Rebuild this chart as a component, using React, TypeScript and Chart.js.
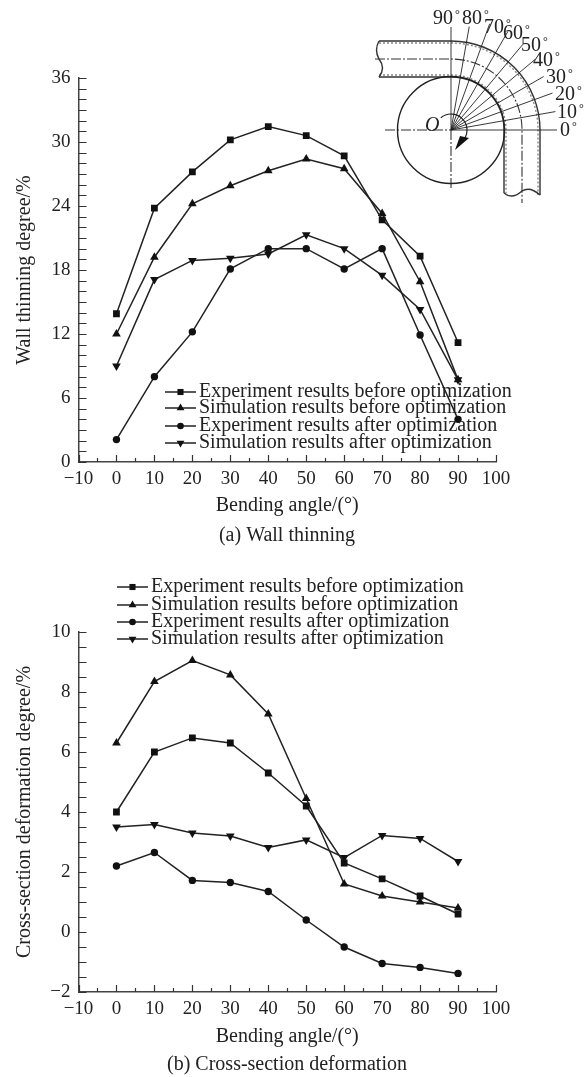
import React, { useEffect, useRef } from "react";
import { Chart, registerables } from "chart.js";
import { drawPoint } from "chart.js/helpers";

Chart.register(...registerables);

const angles = [0, 10, 20, 30, 40, 50, 60, 70, 80, 90];
const seriesNames = [
  "Experiment results before optimization",
  "Simulation results before optimization",
  "Experiment results after optimization",
  "Simulation results after optimization",
];
const thinExpBefore = [13.9, 23.8, 27.2, 30.2, 31.45, 30.6, 28.7, 22.7, 19.3, 11.2];
const thinSimBefore = [12.0, 19.2, 24.2, 25.9, 27.3, 28.4, 27.5, 23.3, 16.9, 7.7];
const thinExpAfter = [2.1, 8.0, 12.2, 18.1, 20.0, 20.0, 18.1, 20.0, 11.9, 4.0];
const thinSimAfter = [9.0, 17.1, 18.9, 19.1, 19.5, 21.3, 20.0, 17.5, 14.3, 7.7];
const defExpBefore = [4.0, 6.0, 6.47, 6.3, 5.3, 4.2, 2.3, 1.77, 1.2, 0.6];
const defSimBefore = [6.3, 8.35, 9.05, 8.57, 7.27, 4.45, 1.6, 1.2, 1.0, 0.8];
const defExpAfter = [2.2, 2.65, 1.72, 1.65, 1.35, 0.4, -0.5, -1.05, -1.18, -1.38];
const defSimAfter = [3.5, 3.58, 3.3, 3.2, 2.82, 3.07, 2.48, 3.22, 3.12, 2.35];
const insetAngles = [0, 10, 20, 30, 40, 50, 60, 70, 80, 90];
const insetReach = [106, 106, 108, 107, 110, 112, 114, 113, 105, 103];
const insetLabelSpots = [
  [560, 136], [557, 118], [555, 100], [546, 83], [533, 66], [521, 51], [503, 39], [484, 33], [462, 24], [433, 24],
];

const FONT = '"Liberation Serif", "Times New Roman", serif';
const INK = "#222";
const markers = [
  { pointStyle: "rect", radius: 4.8, rotation: 0 },
  { pointStyle: "triangle", radius: 5, rotation: 0 },
  { pointStyle: "circle", radius: 3.7, rotation: 0 },
  { pointStyle: "triangle", radius: 5, rotation: 180 },
];

const captionCentre = {
  id: "captionCentre",
  afterLayout(chart: any) {
    if (chart.titleBlock) {
      chart.titleBlock.left = 0;
      chart.titleBlock.right = 574;
    }
  },
};

const minorTicks = {
  id: "minorTicks",
  afterDatasetsDraw(chart: any) {
    const { ctx, scales } = chart;
    const { x, y } = scales;
    ctx.save();
    ctx.strokeStyle = "#333";
    ctx.lineWidth = 1.2;
    ctx.beginPath();
    for (const t of x.ticks) {
      const px = Math.round(x.getPixelForValue(t.value)) + 0.5;
      const len = t.value % 10 === 0 ? 7 : 4;
      ctx.moveTo(px, y.bottom);
      ctx.lineTo(px, y.bottom - len);
    }
    for (const t of y.ticks) {
      const py = Math.round(y.getPixelForValue(t.value)) + 0.5;
      ctx.moveTo(x.left, py);
      ctx.lineTo(x.left + 8, py);
    }
    ctx.stroke();
    ctx.restore();
  },
};

const legendKey = {
  id: "legendKey",
  afterDatasetsDraw(chart: any, _a: any, opts: any) {
    const { ctx } = chart;
    ctx.save();
    ctx.font = `${opts.size}px ${FONT}`;
    ctx.textBaseline = "middle";
    chart.data.datasets.forEach((ds: any, i: number) => {
      const yy = opts.ys[i];
      ctx.strokeStyle = INK;
      ctx.lineWidth = 1.5;
      ctx.beginPath();
      ctx.moveTo(opts.x, yy);
      ctx.lineTo(opts.x + 31, yy);
      ctx.stroke();
      ctx.fillStyle = "#111";
      ctx.strokeStyle = "#111";
      drawPoint(ctx, { pointStyle: ds.pointStyle, radius: ds.pointRadius * 0.9, rotation: ds.pointRotation, borderWidth: 0 }, opts.x + 15.5, yy);
      ctx.fillStyle = INK;
      ctx.fillText(ds.label, opts.x + 34, yy);
    });
    ctx.restore();
  },
};

const benderInset = {
  id: "benderInset",
  afterDatasetsDraw(chart: any) {
    const { ctx } = chart;
    const ox = 451, oy = 130;
    const tube = (r: number, yTop: number, xEnd: number, yEnd: number, xStart: number) => {
      ctx.beginPath();
      ctx.moveTo(xStart, yTop);
      ctx.lineTo(ox, yTop);
      ctx.arc(ox, oy, r, -Math.PI / 2, 0);
      ctx.lineTo(xEnd, yEnd);
      ctx.stroke();
    };
    ctx.save();
    ctx.strokeStyle = "#333";
    ctx.lineWidth = 1.4;
    tube(89, 41, 540, 195, 379);
    tube(53, 77, 504, 193, 379);
    ctx.strokeStyle = "#888";
    ctx.setLineDash([2, 2]);
    tube(87, 43, 538, 195, 379);
    tube(55, 75, 506, 193, 379);
    ctx.setLineDash([]);
    ctx.strokeStyle = "#333";
    ctx.beginPath();
    ctx.moveTo(379, 41);
    ctx.quadraticCurveTo(374, 50, 379, 59);
    ctx.quadraticCurveTo(386, 68, 379, 77);
    ctx.moveTo(504, 193);
    ctx.quadraticCurveTo(512, 200, 522, 191);
    ctx.quadraticCurveTo(530, 186, 540, 195);
    ctx.stroke();
    ctx.lineWidth = 1.1;
    ctx.setLineDash([10, 2, 2, 2]);
    tube(71, 59, 522, 203, 375);
    ctx.beginPath();
    ctx.moveTo(385, oy);
    ctx.lineTo(ox, oy);
    ctx.moveTo(ox, oy);
    ctx.lineTo(ox, 190);
    ctx.stroke();
    ctx.setLineDash([]);
    ctx.strokeStyle = "#222";
    ctx.lineWidth = 1.4;
    ctx.beginPath();
    ctx.arc(ox, oy, 53.5, 0, Math.PI * 2);
    ctx.stroke();
    ctx.lineWidth = 0.9;
    insetAngles.forEach((a, i) => {
      const rad = (a * Math.PI) / 180;
      ctx.beginPath();
      ctx.moveTo(ox, oy);
      ctx.lineTo(ox + insetReach[i] * Math.cos(rad), oy - insetReach[i] * Math.sin(rad));
      ctx.stroke();
    });
    ctx.lineWidth = 1.2;
    ctx.beginPath();
    ctx.arc(ox, oy, 16, -Math.PI * 0.72, Math.PI * 0.25);
    ctx.stroke();
    ctx.fillStyle = "#111";
    ctx.beginPath();
    ctx.moveTo(469, 138);
    ctx.lineTo(455, 150);
    ctx.lineTo(460, 136);
    ctx.closePath();
    ctx.fill();
    ctx.fillStyle = INK;
    ctx.textBaseline = "alphabetic";
    ctx.font = `italic 20px ${FONT}`;
    ctx.fillText("O", 425, 131);
    insetAngles.forEach((a, i) => {
      const [lx, ly] = insetLabelSpots[i];
      ctx.font = `20px ${FONT}`;
      ctx.fillText(String(a), lx, ly);
      const w = ctx.measureText(String(a)).width;
      ctx.font = `12px ${FONT}`;
      ctx.fillText("°", lx + w + 2, ly - 6);
    });
    ctx.restore();
  },
};

function buildChart(canvas: HTMLCanvasElement, cfg: any) {
  const tickFont = { family: FONT, size: 19 };
  const titleFont = { family: FONT, size: 20, weight: "normal" as const };
  const series = [cfg.a, cfg.b, cfg.c, cfg.d];
  return new Chart(canvas, {
    type: "line",
    data: {
      labels: angles,
      datasets: series.map((vals: number[], i: number) => ({
        label: seriesNames[i],
        data: vals.map((v, k) => ({ x: angles[k], y: v })),
        borderColor: INK,
        backgroundColor: INK,
        borderWidth: 1.5,
        tension: 0,
        pointStyle: markers[i].pointStyle,
        pointRadius: markers[i].radius,
        pointRotation: markers[i].rotation,
        pointBorderWidth: 0,
        pointBackgroundColor: "#111",
      })),
    },
    options: {
      responsive: false,
      animation: false,
      layout: { padding: { left: 0, right: 90, top: cfg.top, bottom: 0 } },
      plugins: {
        legend: { display: false },
        tooltip: { enabled: false },
        title: {
          display: true,
          position: "bottom",
          text: cfg.caption,
          color: INK,
          font: titleFont,
          padding: 0,
        },
        legendKey: cfg.legend,
      } as any,
      scales: {
        x: {
          type: "linear",
          min: -10,
          max: 100,
          afterFit: (s: any) => { s.height = cfg.xHeight; },
          grid: { display: false, drawTicks: false },
          border: { display: true, color: "#444", width: 1.5 },
          ticks: {
            stepSize: 5,
            autoSkip: false,
            maxRotation: 0,
            padding: 6,
            color: INK,
            font: tickFont,
            callback: (v: any) => (v % 10 === 0 ? String(v).replace("-", "\u2212") : ""),
          },
          title: {
            display: true,
            text: "Bending angle/(\u00b0)",
            color: INK,
            font: titleFont,
            padding: { top: 0, bottom: cfg.xTitlePad },
          },
        },
        y: {
          min: cfg.ymin,
          max: cfg.ymax,
          afterFit: (s: any) => { s.width = 78.5; },
          grid: { display: false, drawTicks: false },
          border: { display: true, color: "#444", width: 1.5 },
          ticks: {
            stepSize: cfg.minor,
            autoSkip: false,
            padding: 8,
            color: INK,
            font: tickFont,
            callback: (v: any) => {
              const n = Number(v);
              return Math.abs(n / cfg.major - Math.round(n / cfg.major)) < 1e-6 ? String(n).replace("-", "\u2212") : "";
            },
          },
          title: {
            display: true,
            text: cfg.ytitle,
            color: INK,
            font: titleFont,
            padding: { top: 13, bottom: 0 },
          },
        },
      },
    } as any,
    plugins: [captionCentre, minorTicks, legendKey, ...(cfg.inset ? [benderInset] : [])] as any,
  });
}

export default function App() {
  const refA = useRef<HTMLCanvasElement>(null);
  const refB = useRef<HTMLCanvasElement>(null);
  useEffect(() => {
    const a = buildChart(refA.current!, {
      a: thinExpBefore, b: thinSimBefore, c: thinExpAfter, d: thinSimAfter,
      top: 78, ymin: 0, ymax: 36, major: 6, minor: 1, xHeight: 62, xTitlePad: 6,
      ytitle: "Wall thinning degree/%",
      caption: "(a) Wall thinning",
      inset: true,
      legend: { x: 165, ys: [392, 408, 426, 443], size: 20 },
    });
    const b = buildChart(refB.current!, {
      a: defExpBefore, b: defSimBefore, c: defExpAfter, d: defSimAfter,
      top: 82, ymin: -2, ymax: 10, major: 2, minor: 0.5, xHeight: 61, xTitlePad: 4,
      ytitle: "Cross-section deformation degree/%",
      caption: "(b) Cross-section deformation",
      inset: false,
      legend: { x: 117, ys: [37, 55, 72, 89], size: 20 },
    });
    return () => { a.destroy(); b.destroy(); };
  }, []);
  return (
    <div style={{ position: "absolute", left: 0, top: 0, width: 586, height: 1077, background: "#fff", overflow: "hidden" }}>
      <canvas ref={refA} width={586} height={548} style={{ position: "absolute", left: 0, top: 0, display: "block", width: 586, height: 548 }} />
      <canvas ref={refB} width={586} height={527} style={{ position: "absolute", left: 0, top: 550, display: "block", width: 586, height: 527 }} />
    </div>
  );
}
